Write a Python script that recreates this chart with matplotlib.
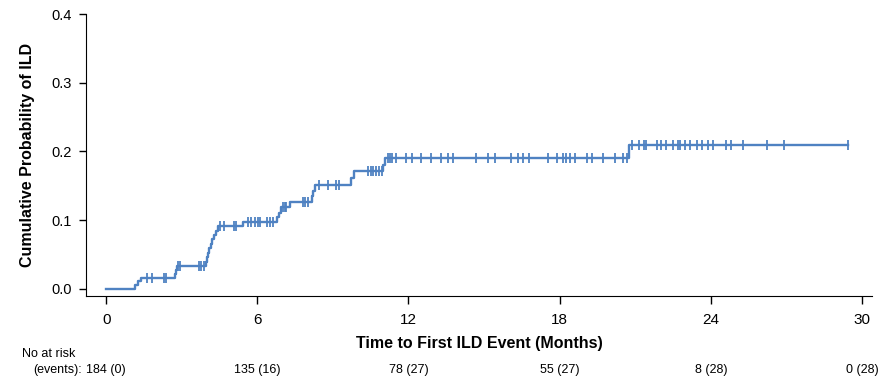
import numpy as np
import matplotlib
matplotlib.use("Agg")
import matplotlib.pyplot as plt
import matplotlib.transforms as mtransforms

plt.rcParams['font.family'] = ['Liberation Sans', 'DejaVu Sans']

# event times (months) and cumulative probability after each event
event_times = [0.0, 1.15, 1.27, 1.40, 2.72, 2.77, 2.82,
               3.95, 4.00, 4.05, 4.10, 4.15, 4.22, 4.30, 4.37, 4.43,
               5.45, 6.80, 6.88, 6.96, 7.30, 8.17, 8.22, 8.28,
               9.70, 9.85, 10.98, 11.08, 20.75]
event_probs = [0.0, 0.0054, 0.0109, 0.0163, 0.022, 0.0275, 0.033,
               0.039, 0.046, 0.052, 0.059, 0.066, 0.072, 0.079, 0.085, 0.092,
               0.097, 0.104, 0.111, 0.119, 0.127, 0.135, 0.143, 0.151,
               0.162, 0.172, 0.181, 0.190, 0.209]
last_time = 29.43

censor_times = [1.62, 1.82, 2.28, 2.38, 2.86, 2.92, 3.67, 3.76, 3.87,
                4.50, 4.66, 5.06, 5.15, 5.62, 5.75, 5.92, 6.03, 6.12, 6.38, 6.50, 6.62,
                7.03, 7.10, 7.15, 7.81, 7.91, 8.00, 8.43, 8.79, 9.14, 9.23,
                10.40, 10.50, 10.60, 10.70, 10.82, 10.93,
                11.18, 11.26, 11.35, 11.52, 11.90, 12.15, 12.50, 12.90, 13.30, 13.55,
                13.75, 14.68, 15.17, 15.42, 16.08, 16.36, 16.55, 16.78, 17.55, 17.90,
                18.14, 18.24, 18.41, 18.60, 19.10, 19.30, 19.73, 20.19, 20.53, 20.66,
                20.89, 21.15, 21.35, 21.42, 21.85, 22.04, 22.21, 22.52, 22.71, 22.76,
                22.96, 23.17, 23.44, 23.67, 23.89, 24.09, 24.59, 24.79, 25.26, 26.22,
                26.91, 29.43]

risk_times = [0, 6, 12, 18, 24, 30]
at_risk = [184, 135, 78, 55, 8, 0]
events = [0, 16, 27, 27, 28, 28]

color = '#4f82c2'

fig = plt.figure(figsize=(8.92, 3.82), dpi=100)
ax = fig.add_axes([86 / 892, 1 - 296 / 382, (872 - 86) / 892, (296 - 14) / 382])

xs = list(event_times) + [last_time]
ys = list(event_probs) + [event_probs[-1]]
ax.step(xs, ys, where='post', color=color, lw=1.7)

ct = np.array(censor_times)
idx = np.searchsorted(np.array(event_times), ct, side='right') - 1
cy = np.array(event_probs)[idx]
ax.plot(ct, cy, '|', color=color, ms=6.5, mew=1.3)

ax.set_xlim(-0.8, 30.4)
ax.set_ylim(-0.0102, 0.4)
ax.set_xticks(risk_times)
ax.set_yticks([0.0, 0.1, 0.2, 0.3, 0.4])
ax.set_yticklabels(['0.0', '0.1', '0.2', '0.3', '0.4'])
ax.tick_params(axis='x', length=6, width=1, labelsize=11, pad=6)
ax.tick_params(axis='y', length=5, width=1, labelsize=10.5, pad=5)
ax.spines['top'].set_visible(False)
ax.spines['right'].set_visible(False)

ax.set_xlabel('Time to First ILD Event (Months)', fontsize=11.5, fontweight='bold', labelpad=7)
ax.set_ylabel('Cumulative Probability of ILD', fontsize=11.5, fontweight='bold', labelpad=12)

trans = mtransforms.blended_transform_factory(ax.transData, fig.transFigure)
fig.text(22 / 892, 1 - 354 / 382, 'No at risk', fontsize=9, va='center', ha='left')
fig.text(82 / 892, 1 - 370 / 382, '(events):', fontsize=9, va='center', ha='right')
for t, n, e in zip(risk_times, at_risk, events):
    ax.text(t, 1 - 370 / 382, f'{n} ({e})', transform=trans, fontsize=9,
            va='center', ha='center', clip_on=False)

fig.savefig('out.png', dpi=100)
